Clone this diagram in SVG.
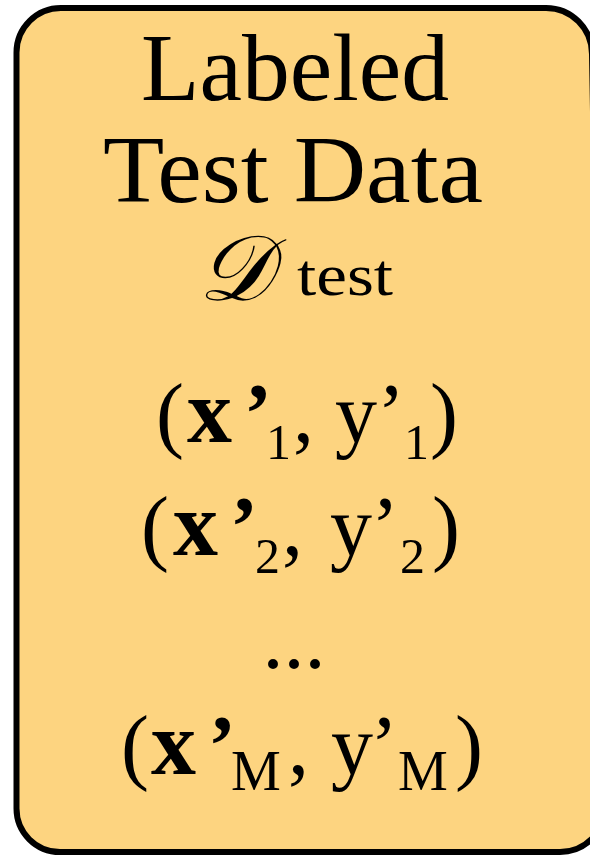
<svg xmlns="http://www.w3.org/2000/svg" width="590" height="859" viewBox="0 0 590 859">
<style>
.t{font-family:"Liberation Serif","Times New Roman",serif;fill:#000}
.m{text-anchor:middle}
.b{font-weight:bold}
.big{font-size:84px}
.sub{font-size:50px}
</style>
<g id="testdata">
<path d="M61.5,8 H546 A46 46 0 0 1 592,54 L605,807 A45 45 0 0 1 560,852 H60 A43.5 43.5 0 0 1 16.5,808.5 V52.5 A44.5 44.5 0 0 1 61.5,8 Z" fill="#FDD480" stroke="#000" stroke-width="6"/>
<text class="t m" x="295" y="100" font-size="96" textLength="308" lengthAdjust="spacingAndGlyphs">Labeled</text>
<text class="t m" x="293" y="202" font-size="95" textLength="380" lengthAdjust="spacingAndGlyphs">Test Data</text>
<text class="t" x="198" y="300" font-size="92" font-style="italic" font-family="DejaVu Serif, serif">𝒟</text>
<text class="t" x="297" y="295" font-size="60" textLength="96" lengthAdjust="spacingAndGlyphs">test</text>
<text class="t big" y="442"><tspan x="156">(</tspan><tspan x="187" class="b" font-size="90">x</tspan><tspan x="244" class="b">’</tspan><tspan x="266" y="459" class="sub">1</tspan><tspan x="293" y="442">,</tspan><tspan x="335">y</tspan><tspan x="377">’</tspan><tspan x="404" y="459" class="sub">1</tspan><tspan x="430" y="442">)</tspan></text>
<text class="t big" y="555"><tspan x="141">(</tspan><tspan x="173" class="b" font-size="90">x</tspan><tspan x="230" class="b">’</tspan><tspan x="255" y="573" class="sub">2</tspan><tspan x="282" y="555">,</tspan><tspan x="330">y</tspan><tspan x="371">’</tspan><tspan x="400" y="573" class="sub">2</tspan><tspan x="432" y="555">)</tspan></text>
<text class="t m" x="294" y="668" font-size="84">...</text>
<text class="t big" y="774"><tspan x="121">(</tspan><tspan x="151" class="b" font-size="90">x</tspan><tspan x="208" class="b">’</tspan><tspan x="231" y="790" font-size="56">M</tspan><tspan x="288" y="774">,</tspan><tspan x="331">y</tspan><tspan x="370">’</tspan><tspan x="398" y="790" font-size="56">M</tspan><tspan x="455" y="774">)</tspan></text>
</g>
</svg>
